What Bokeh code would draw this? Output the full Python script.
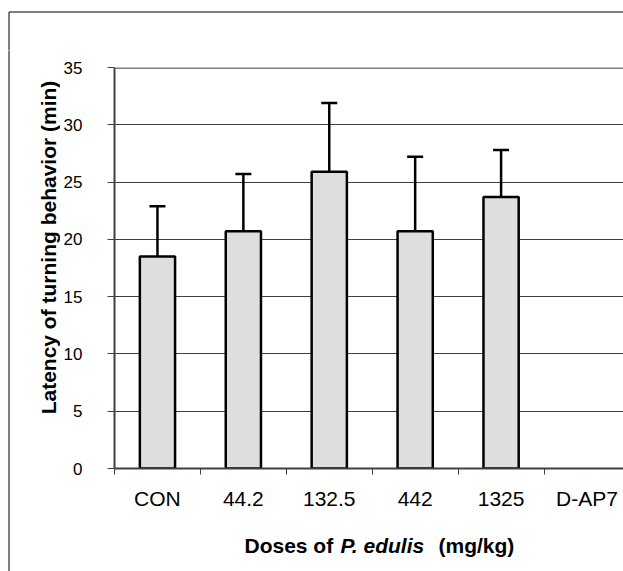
import math
from bokeh.plotting import figure
from bokeh.models import (Range1d, FixedTicker, Whisker, TeeHead, ColumnDataSource,
                          Label, Span)
from bokeh.layouts import row, column
from bokeh.embed import file_html
from bokeh.resources import INLINE

# ---- data ----
doses = ["CON", "44.2", "132.5", "442", "1325", "D-AP7"]
means = [18.5, 20.7, 25.9, 20.7, 23.7]          # D-AP7: no bar
sds = [4.4, 5.0, 6.0, 6.5, 4.1]
y_ticks = [0, 5, 10, 15, 20, 25, 30, 35]
y_title = "Latency of turning behavior (min)"
x_title_parts = ["Doses of", "P. edulis", "(mg/kg)"]
x_title_styles = ["bold", "bold italic", "bold"]

FONT = "Liberation Sans"
W, H = 623, 571
LEFT_W = 60
TOP_H = 50
MAIN_H = 470
BOT_H = H - TOP_H - MAIN_H
PLOT_LEFT = 114


def blank(width, height, x0, x1, y_top, y_bot, border_left=0):
    f = figure(width=width, height=height, output_backend="svg", toolbar_location=None,
               x_range=Range1d(x0, x1), y_range=Range1d(y_bot, y_top),
               min_border=0, min_border_left=border_left, min_border_right=0,
               min_border_top=0, min_border_bottom=0)
    f.axis.visible = False
    f.grid.visible = False
    f.outline_line_color = None
    f.background_fill_color = "white"
    f.border_fill_color = "white"
    return f


# ---- top strip: outer border (top line + start of left line) ----
pt = blank(W, TOP_H, 0, W, 0, TOP_H)
pt.segment(x0=[8.5, 8.5], y0=[11.5, 11.5], x1=[W + 5, 8.5], y1=[11.5, TOP_H + 5],
           line_color="black", line_width=1)

# ---- left strip: outer border left line + y title ----
LH = H - TOP_H
pl = blank(LEFT_W, LH, 0, LEFT_W, TOP_H, H)
pl.segment(x0=[8.5], y0=[TOP_H - 5], x1=[8.5], y1=[H + 5], line_color="black", line_width=1)
pl.add_layout(Label(x=48, y=247, text=y_title, angle=math.pi / 2,
                    text_align="center", text_baseline="middle",
                    text_font=FONT, text_font_size="21px", text_font_style="bold",
                    text_color="black"))

# ---- main chart ----
p = figure(width=W - LEFT_W, height=MAIN_H, output_backend="svg", toolbar_location=None,
           x_range=Range1d(0, 5.925), y_range=Range1d(0, 35),
           min_border_left=PLOT_LEFT - LEFT_W, min_border_right=0, min_border_top=67 - TOP_H,
           min_border_bottom=MAIN_H - (468 - TOP_H))
p.background_fill_color = "white"
p.border_fill_color = "white"
p.outline_line_color = None

xs = [i + 0.5 for i in range(len(means))]
src = ColumnDataSource(dict(x=xs, top=means, upper=[m + s for m, s in zip(means, sds)]))

p.vbar(x="x", top="top", bottom=0, width=0.41, source=src,
       fill_color="#dedede", line_color="black", line_width=2.5)

w = Whisker(base="x", lower="top", upper="upper", source=src, dimension="height",
            line_color="black", line_width=2.5,
            upper_head=TeeHead(size=16, line_color="black", line_width=2.5),
            lower_head=None)
p.add_layout(w)
p.add_layout(Span(location=35, dimension="width", line_color="#808080", line_width=3))

p.xaxis.ticker = FixedTicker(ticks=[i + 0.5 for i in range(len(doses))],
                             minor_ticks=list(range(len(doses) + 1)))
p.xaxis.major_label_overrides = {i + 0.5: d for i, d in enumerate(doses)}
p.xaxis.major_tick_out = 0
p.xaxis.major_tick_in = 0
p.xaxis.minor_tick_out = 6
p.xaxis.minor_tick_in = 0
p.xaxis.minor_tick_line_color = "#404040"
p.xaxis.axis_line_color = "#404040"
p.xaxis.axis_line_width = 2
p.xaxis.major_label_text_font = FONT
p.xaxis.major_label_text_font_size = "21px"
p.xaxis.major_label_text_color = "black"
p.xaxis.major_label_standoff = 12

p.yaxis.ticker = FixedTicker(ticks=y_ticks, minor_ticks=[])
p.yaxis.major_tick_out = 7
p.yaxis.major_tick_in = 0
p.yaxis.major_tick_line_color = "#404040"
p.yaxis.axis_line_color = "#404040"
p.yaxis.axis_line_width = 2
p.yaxis.major_label_text_font = FONT
p.yaxis.major_label_text_font_size = "17px"
p.yaxis.major_label_text_color = "black"
p.yaxis.major_label_standoff = 25

p.xgrid.visible = False
p.ygrid.ticker = FixedTicker(ticks=y_ticks[1:-1])
p.ygrid.grid_line_color = "#404040"
p.ygrid.grid_line_width = 1

# ---- bottom strip: x title with mixed styles (frame aligned with the chart) ----
pb = blank(W - LEFT_W, BOT_H, PLOT_LEFT, W, TOP_H + MAIN_H, H,
           border_left=PLOT_LEFT - LEFT_W)
starts = [244, 340, 438]
for t, st, x0 in zip(x_title_parts, x_title_styles, starts):
    pb.add_layout(Label(x=x0, y=545, text=t,
                        text_align="left", text_baseline="alphabetic",
                        text_font=FONT, text_font_size="21px", text_font_style=st,
                        text_color="black"))

layout = column(pt, row(pl, column(p, pb, spacing=0), spacing=0), spacing=0)
open("out.html", "w").write(file_html(layout, INLINE))
